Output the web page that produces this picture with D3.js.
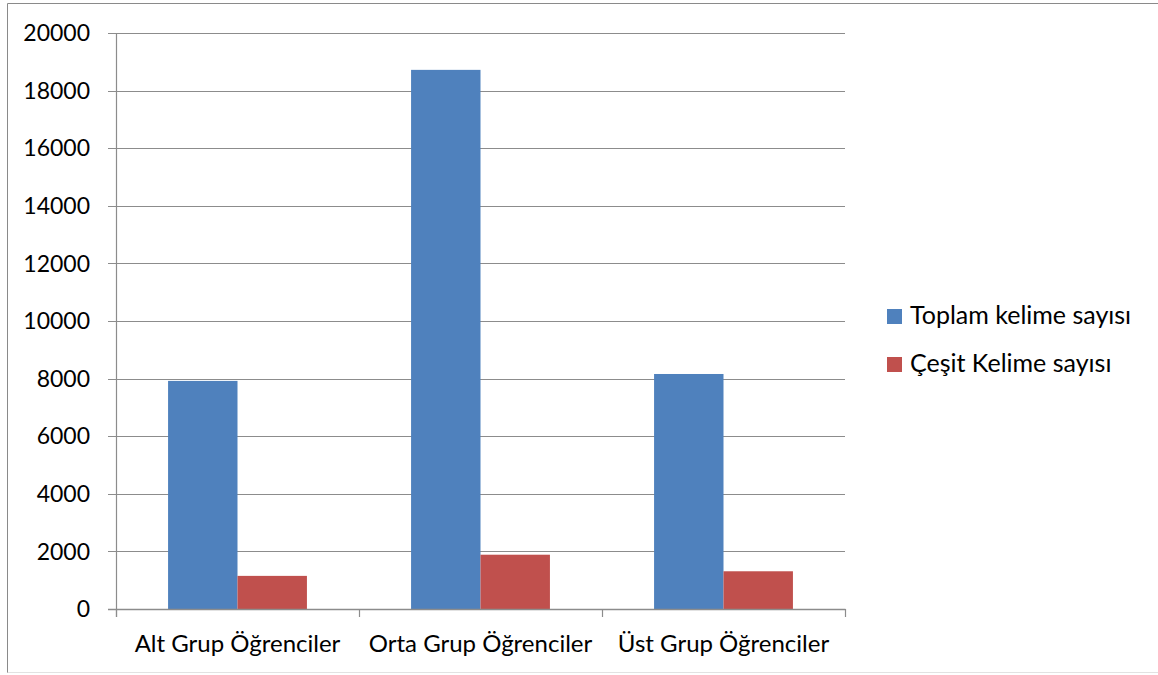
<!DOCTYPE html>
<html>
<head>
<meta charset="utf-8">
<script src="https://cdn.jsdelivr.net/npm/d3@7"></script>
<style>
  body { margin: 0; background: #fff; }
  text { font-family: Lato, "Open Sans", sans-serif; fill: #000; }
</style>
</head>
<body>
<svg id="chart" width="1158" height="675"></svg>
<script>
// chart data
const categories = ["Alt Grup Öğrenciler", "Orta Grup Öğrenciler", "Üst Grup Öğrenciler"]
const seriesNames = ["Toplam kelime sayısı", "Çeşit Kelime sayısı"]
const toplamValues = [7920, 18720, 8160]
const cesitValues = [1150, 1885, 1310]
const yTicks = [0, 2000, 4000, 6000, 8000, 10000, 12000, 14000, 16000, 18000, 20000]
const colors = ["#4F81BD", "#C0504D"]

const svg = d3.select("#chart")
const plot = { left: 116, right: 845, top: 33, bottom: 609 }

// outer frame
svg.append("line").attr("x1", 7.5).attr("x2", 7.5).attr("y1", 3.5).attr("y2", 673)
    .attr("stroke", "#8a8a8a")
svg.append("line").attr("x1", 7.5).attr("x2", 1158).attr("y1", 3.5).attr("y2", 3.5)
    .attr("stroke", "#8a8a8a")
svg.append("line").attr("x1", 7.5).attr("x2", 1158).attr("y1", 672.5).attr("y2", 672.5)
    .attr("stroke", "#e2e2e2")

let y = d3.scaleLinear().domain([0, 20000]).range([plot.bottom, plot.top])
let x0 = d3.scaleBand().domain(categories).range([plot.left, plot.right])
// bars take 2/3.5 of each category (gap width 150%)
let bw = x0.bandwidth() / 3.5
let x1 = d3.scaleBand().domain(seriesNames)
    .range([x0.bandwidth() / 2 - bw, x0.bandwidth() / 2 + bw])

// gridlines
svg.append("g").selectAll("line").data(yTicks.filter(d => d > 0)).join("line")
    .attr("x1", plot.left - 8).attr("x2", plot.right)
    .attr("y1", d => Math.round(y(d)) + 0.5).attr("y2", d => Math.round(y(d)) + 0.5)
    .attr("stroke", "#8c8c8c").attr("stroke-width", 1.2)

// y tick labels
svg.append("g").selectAll("text").data(yTicks).join("text")
    .attr("x", 90).attr("y", d => y(d))
    .attr("dy", "0.36em")
    .attr("text-anchor", "end")
    .attr("font-size", 23)
    .text(d => d)

// bars
const series = [toplamValues, cesitValues]
const groups = svg.append("g").selectAll("g").data(categories).join("g")
    .attr("transform", d => `translate(${x0(d)},0)`)
groups.selectAll("rect")
    .data((c, i) => seriesNames.map((s, j) => ({ s, v: series[j][i], j })))
    .join("rect")
    .attr("x", d => x1(d.s))
    .attr("width", x1.bandwidth())
    .attr("y", d => y(d.v))
    .attr("height", d => y(0) - y(d.v))
    .attr("fill", d => colors[d.j])

// axes lines
svg.append("line").attr("x1", plot.left + 0.5).attr("x2", plot.left + 0.5)
    .attr("y1", plot.top).attr("y2", plot.bottom + 8)
    .attr("stroke", "#8c8c8c").attr("stroke-width", 1.2)
svg.append("line").attr("x1", plot.left - 8).attr("x2", plot.right + 0.5)
    .attr("y1", plot.bottom + 0.5).attr("y2", plot.bottom + 0.5)
    .attr("stroke", "#8c8c8c").attr("stroke-width", 1.5)
// category boundary ticks
let bounds = categories.map(c => x0(c)).concat([plot.right])
svg.append("g").selectAll("line").data(bounds).join("line")
    .attr("x1", d => Math.round(d) + 0.5).attr("x2", d => Math.round(d) + 0.5)
    .attr("y1", plot.bottom).attr("y2", plot.bottom + 8)
    .attr("stroke", "#8c8c8c").attr("stroke-width", 1.2)

// category labels
svg.append("g").selectAll("text").data(categories).join("text")
    .attr("x", d => x0(d) + x0.bandwidth() / 2)
    .attr("y", 652)
    .attr("text-anchor", "middle")
    .attr("font-size", 24)
    .text(d => d)

// legend
const legend = svg.append("g").selectAll("g").data(seriesNames).join("g")
    .attr("transform", (d, i) => `translate(887,${309 + i * 48})`)
legend.append("rect").attr("width", 15).attr("height", 15)
    .attr("fill", (d, i) => colors[i])
legend.append("text").attr("x", 23).attr("y", 15)
    .attr("font-size", 25)
    .text(d => d)
</script>
</body>
</html>
